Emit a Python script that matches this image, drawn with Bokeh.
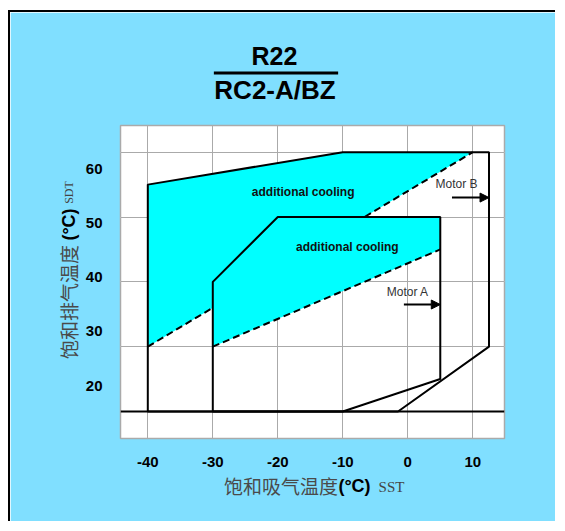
import math
from bokeh.plotting import figure
from bokeh.models import (Range1d, LinearAxis, FixedTicker, Grid, Span, Label,
                          Arrow, NormalHead)
from bokeh.embed import file_html
from bokeh.resources import INLINE

# ---------------- data ----------------
x_ticks = [-40, -30, -20, -10, 0, 10]
y_ticks = [20, 30, 40, 50, 60]

# Motor B envelope (outer)
motor_b_sst = [-40, -40, -10, 12.5, 12.5, -1.5]
motor_b_sdt = [20, 55, 60, 60, 30, 20]
# Motor A envelope (inner)
motor_a_sst = [-30, -30, -20, 5, 5, -10]
motor_a_sdt = [20, 40, 50, 50, 25, 20]
# additional cooling regions
cool_b_sst = [-40, -40, -10, 10]
cool_b_sdt = [30, 55, 60, 60]
cool_a_sst = [-30, -30, -20, 5, 5]
cool_a_sdt = [30, 40, 50, 50, 45]
# additional cooling limit lines (dashed)
limit_b_sst = [-40, 10]
limit_b_sdt = [30, 60]
limit_a_sst = [-30, 5]
limit_a_sdt = [30, 45]
# minimum SDT line
sdt_min = 20
# motor arrows
arrow_b_sst = [6.8, 12.5]
arrow_b_sdt = 53
arrow_a_sst = [-0.6, 5]
arrow_a_sdt = 36.5

# ---------------- layout ----------------
XMIN, XMAX = -44.2, 14.88
YMIN, YMAX = 15.83, 64.12
LBL_YMIN, LBL_YMAX = 10.2, 68.08   # range of the (offset) tick-label axis
FRAME_L, FRAME_T, FRAME_W, FRAME_H = 120, 125, 384, 313

def dx(px):
    return XMIN + (px - FRAME_L) * (XMAX - XMIN) / FRAME_W

def dy(py):
    return YMAX - (py - FRAME_T) * (YMAX - YMIN) / FRAME_H

BG = "#80DFFF"
CYAN = "#00FFFF"
GRID = "#AAAAAA"

p = figure(width=547, height=511,
           x_range=Range1d(XMIN, XMAX), y_range=Range1d(YMIN, YMAX),
           y_axis_location=None, toolbar_location=None, output_backend="svg",
           min_border_left=110, min_border_right=53,
           min_border_top=113, min_border_bottom=85,
           background_fill_color="white", border_fill_color=BG,
           outline_line_color=GRID, outline_line_width=1.5)
p.styles = {"border-top": "2px solid black", "border-left": "2px solid black",
            "margin-left": "8px", "margin-top": "10px"}

p.extra_y_ranges = {"labels": Range1d(LBL_YMIN, LBL_YMAX)}

# x axis
p.xaxis.ticker = FixedTicker(ticks=x_ticks)
p.xgrid.ticker = FixedTicker(ticks=x_ticks)
p.xgrid.grid_line_color = GRID
for ax in p.xaxis:
    ax.axis_line_color = None
    ax.major_tick_line_color = None
    ax.minor_tick_line_color = None
    ax.major_label_text_font = "Liberation Sans"
    ax.major_label_text_font_style = "bold"
    ax.major_label_text_font_size = "15px"
    ax.major_label_text_color = "black"
    ax.major_label_standoff = 12
    ax.major_label_overrides = {t: str(t) for t in x_ticks}

# y axis (labels)
yax = LinearAxis(y_range_name="labels", ticker=FixedTicker(ticks=y_ticks),
                 axis_line_color=None, major_tick_line_color=None,
                 minor_tick_line_color=None,
                 major_label_text_font="Liberation Sans",
                 major_label_text_font_style="bold",
                 major_label_text_font_size="15px",
                 major_label_text_color="black",
                 major_label_standoff=12)
p.add_layout(yax, "left")
p.add_layout(Grid(dimension=1, ticker=FixedTicker(ticks=y_ticks),
                  grid_line_color=GRID))

# cyan regions
p.patch(cool_b_sst, cool_b_sdt, fill_color=CYAN, line_color=None)
p.line(limit_b_sst, limit_b_sdt, line_color="black", line_width=2, line_dash="7 4")
p.patch(cool_a_sst, cool_a_sdt, fill_color=CYAN, line_color=None)
p.line(limit_a_sst, limit_a_sdt, line_color="black", line_width=2, line_dash="7 4")

# envelopes
p.patch(motor_b_sst, motor_b_sdt, fill_color=None, line_color="black", line_width=2)
p.patch(motor_a_sst, motor_a_sdt, fill_color=None, line_color="black", line_width=2)
p.add_layout(Span(location=sdt_min, dimension="width", line_color="black", line_width=2))

# arrows
p.add_layout(Arrow(end=NormalHead(size=9, fill_color="black", line_color="black"),
                   x_start=arrow_b_sst[0], x_end=arrow_b_sst[1],
                   y_start=arrow_b_sdt, y_end=arrow_b_sdt,
                   line_color="black", line_width=2))
p.add_layout(Arrow(end=NormalHead(size=9, fill_color="black", line_color="black"),
                   x_start=arrow_a_sst[0], x_end=arrow_a_sst[1],
                   y_start=arrow_a_sdt, y_end=arrow_a_sdt,
                   line_color="black", line_width=2))

def lbl(text, x, y, size, font="Liberation Sans", style="normal", color="black",
        angle=0, place="center"):
    lab = Label(text=text, x=x, y=y, text_align="center", text_baseline="middle",
                text_font=font, text_font_size=size, text_font_style=style,
                text_color=color, angle=angle)
    if place == "center":
        p.add_layout(lab)
    else:
        p.add_layout(lab, place)
    return lab

# in-chart texts
lbl("Motor B", 7.5, 55.1, "12px", color="#333333")
lbl("Motor A", 0.0, 38.4, "12px", color="#333333")
lbl("additional cooling", -16.1, 53.85, "12px", style="bold", color="#111111")
lbl("additional cooling", -9.3, 45.4, "12px", style="bold", color="#111111")

# title (outside the frame -> side panel)
lbl("R22", dx(274), dy(55), "25px", style="bold", place="above")
lbl("RC2-A/BZ", dx(274.5), dy(89.5), "26px", style="bold", place="above")
# fraction bar under "R22": an empty label whose padded background is the bar
bar = Label(text=" ", x=dx(275.5), y=dy(72.5), text_align="center", text_baseline="middle",
            text_font_size="1px", text_color="black",
            background_fill_color="black", background_fill_alpha=1.0)
try:
    bar.padding = dict(left=62, right=62, top=1, bottom=1)
except Exception:
    pass
p.add_layout(bar, "above")

# x-axis title (spread over side panels so that no panel grows)
lbl("饱和吸气温度", dx(280.5), dy(485), "19px", font="Noto Sans CJK SC", color="#4a4a4a", place="below")
lbl("(°C)", dx(354), dy(485), "18px", style="bold", place="below")
lbl("SST", dx(391), dy(486), "15px", font="Liberation Serif", color="#444444", place="right")

# y-axis title
lbl("饱和排气温度", dx(68), dy(301.5), "19px", font="Noto Sans CJK SC", color="#4a4a4a",
    angle=math.pi / 2, place="left")
lbl("(°C)", dx(68), dy(224), "18px", style="bold", angle=math.pi / 2, place="left")
lbl("SDT", dx(68), dy(192), "12px", font="Liberation Serif", color="#444444",
    angle=math.pi / 2, place="right")

open("out.html", "w").write(file_html(p, INLINE))
